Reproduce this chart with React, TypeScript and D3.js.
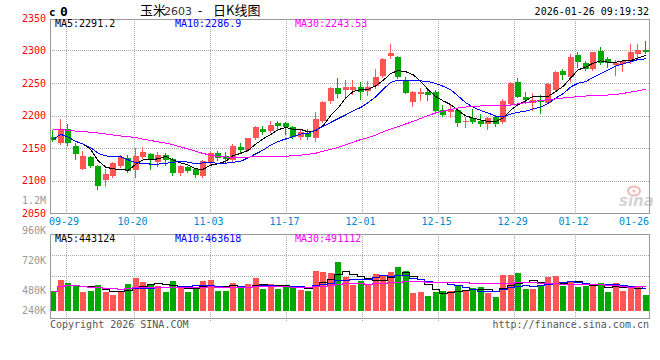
import { useEffect, useRef } from "react";
import * as d3 from "d3";

// trading days shown (80 bars)
const dates = [
  "09-25","09-26","09-29","09-30","10-09","10-10","10-13","10-14","10-15","10-16",
  "10-17","10-20","10-21","10-22","10-23","10-24","10-27","10-28","10-29","10-30",
  "10-31","11-03","11-04","11-05","11-06","11-07","11-10","11-11","11-12","11-13",
  "11-14","11-17","11-18","11-19","11-20","11-21","11-24","11-25","11-26","11-27",
  "11-28","12-01","12-02","12-03","12-04","12-05","12-08","12-09","12-10","12-11",
  "12-12","12-15","12-16","12-17","12-18","12-19","12-22","12-23","12-24","12-25",
  "12-26","12-29","12-30","12-31","01-05","01-06","01-07","01-08","01-09","01-12",
  "01-13","01-14","01-15","01-16","01-19","01-20","01-21","01-22","01-23","01-26",
];

const open = [
  2167,2157,2179,2153,2118,2136,2122,2101,2107,2122,2135,2116,2136,2141,2128,2140,2133,2111,2121,2117,
  2107,2128,2142,2137,2131,2151,2147,2165,2180,2176,2189,2189,2182,2167,2173,2166,2192,2222,2242,2239,
  2240,2244,2238,2245,2261,2291,2290,2255,2221,2233,2236,2236,2208,2205,2208,2190,2196,2191,2187,2197,
  2190,2218,2252,2228,2220,2224,2220,2240,2269,2260,2293,2281,2271,2299,2287,2277,2279,2282,2295,2301,
];
const high = [
  2177,2194,2187,2157,2146,2138,2124,2118,2128,2140,2140,2150,2152,2142,2144,2143,2134,2124,2123,2118,
  2132,2145,2145,2144,2156,2158,2166,2184,2184,2191,2192,2190,2184,2177,2180,2206,2222,2244,2258,2254,
  2255,2252,2253,2271,2288,2310,2292,2260,2237,2243,2239,2239,2216,2216,2209,2197,2210,2203,2197,2201,
  2225,2251,2258,2236,2235,2231,2250,2268,2271,2295,2297,2284,2298,2306,2290,2286,2286,2310,2310,2315,
];
const low = [
  2161,2156,2155,2133,2117,2121,2087,2092,2106,2121,2113,2106,2135,2118,2122,2124,2108,2108,2113,2106,
  2106,2126,2132,2127,2130,2144,2146,2164,2172,2174,2177,2171,2166,2164,2164,2161,2190,2219,2228,2229,
  2233,2225,2231,2243,2260,2288,2257,2234,2214,2224,2224,2206,2200,2198,2184,2183,2188,2184,2180,2184,
  2188,2217,2228,2219,2209,2204,2219,2239,2256,2253,2275,2270,2270,2279,2274,2263,2269,2281,2288,2296,
];
const close = [
  2163,2179,2158,2141,2138,2123,2091,2110,2127,2136,2114,2138,2144,2131,2139,2132,2111,2123,2114,2109,
  2130,2142,2134,2133,2153,2147,2165,2182,2174,2186,2184,2182,2167,2174,2167,2195,2221,2243,2233,2244,
  2244,2236,2244,2260,2287,2296,2259,2235,2236,2236,2232,2207,2201,2208,2189,2192,2190,2187,2196,2187,
  2222,2250,2229,2224,2224,2221,2249,2267,2263,2290,2282,2271,2297,2280,2280,2281,2284,2297,2301,2298,
];
const volume = [
  472,560,536,512,464,472,520,464,440,464,528,576,544,528,512,464,552,504,464,496,
  552,560,472,472,536,496,528,576,488,528,488,512,512,480,472,632,624,616,704,584,
  520,555,520,608,600,624,664,632,456,464,432,464,472,472,512,472,496,504,456,424,
  600,600,616,488,488,520,584,592,512,552,504,512,517,536,464,536,472,507,512,440,
].map((v) => v * 1000);

// MA30 of close (needs history before the first bar)
const ma30Close = [
  2179,2178,2177.5,2176,2175.5,2174,2173,2171.5,2170,2168.5,2167.5,2166,2163.5,2161.5,2159.5,2157.5,2155,2151.5,2148.5,2145,
  2141.5,2139,2137,2136,2135.5,2135.5,2136,2136.5,2137,2137.5,2137.5,2137.5,2138,2139,2140.5,2142,2145,2148,2151,2155,
  2159,2163,2166,2170,2175,2179,2183,2187,2191,2195.5,2200,2204,2207,2209.5,2211.5,2213,2214,2214.7,2215,2215.5,
  2215.7,2216,2218,2220,2221.5,2223,2224.5,2225.5,2227,2228,2229,2230,2230.5,2231,2231.5,2232.5,2234,2236,2238,2240.5,
];

const tickDates = ["09-29","10-20","11-03","11-17","12-01","12-15","12-29","01-12","01-26"];
const priceTicks = [2350, 2300, 2250, 2200, 2150, 2100, 2050];
const volTicks = [1200000, 960000, 720000, 480000, 240000];
const volTickText = ["1.2M", "960K", "720K", "480K", "240K"];
const priceLegend = ["MA5:2291.2", "MA10:2286.9", "MA30:2243.53"];
const volLegend = ["MA5:443124", "MA10:463618", "MA30:491112"];
const maColors = ["#000000", "#0000ff", "#ff00ff"];

const UP = "#ff5555";
const DOWN = "#00a800";
const MONO = "'DejaVu Sans Mono', monospace";
const CJK = "'Noto Sans CJK SC', sans-serif";

function movingAvg(arr: number[], n: number): number[] {
  return arr.map((_, i) => d3.mean(arr.slice(Math.max(0, i - n + 1), i + 1)) as number);
}

export default function App() {
  const ref = useRef<SVGSVGElement>(null);

  useEffect(() => {
    if (!ref.current) return;
    const svg = d3.select(ref.current);
    svg.selectAll("*").remove();

    const L = 50, R = 649;
    const pTop = 19, pBot = 213, vTop = 234, vBot = 318, vBase = 311;

    const x = d3.scaleBand<string>().domain(dates).range([49.5, 649.5]);
    const cx = (i: number) => (x(dates[i]) ?? 0) + x.bandwidth() / 2;
    // grid / tick positions (slightly different spacing in the original)
    const gx = d3.scaleLinear().domain([2, 69]).range([65.5, 575]);
    const y = d3.scaleLinear().domain([2050, 2350]).range([213, 18]);
    const yv = d3.scaleLinear().domain([0, 1200000]).range([350, 200]);

    const grid = svg.append("g").attr("stroke", "#aaa").attr("stroke-dasharray", "1,1").attr("shape-rendering", "crispEdges");
    tickDates.forEach((d) => {
      const gxv = gx(dates.indexOf(d));
      if (gxv >= R - 1) return;
      const px = Math.round(gxv) + 0.5;
      grid.append("line").attr("x1", px).attr("x2", px).attr("y1", pTop).attr("y2", pBot);
      grid.append("line").attr("x1", px).attr("x2", px).attr("y1", vTop).attr("y2", vBot + 4);
    });
    priceTicks.slice(1, -1).forEach((p) => {
      const py = Math.round(y(p)) + 0.5;
      grid.append("line").attr("x1", L).attr("x2", R).attr("y1", py).attr("y2", py);
    });
    [1, 2, 3].forEach((k) => {
      const py = Math.round(vTop + (k * (vBot - vTop)) / 4) + 0.5;
      grid.append("line").attr("x1", L).attr("x2", R).attr("y1", py).attr("y2", py);
    });

    // sina watermark
    const wm = svg.append("g");
    wm.append("ellipse").attr("cx", 634).attr("cy", 191).attr("rx", 6).attr("ry", 4.5)
      .attr("fill", "none").attr("stroke", "#f2b8b8").attr("stroke-width", 2);
    wm.append("circle").attr("cx", 634).attr("cy", 191).attr("r", 1.6).attr("fill", "#f2b8b8");
    wm.append("text").attr("x", 619).attr("y", 206).attr("font-family", "'DejaVu Sans', sans-serif")
      .attr("font-size", 15).attr("font-weight", "bold").attr("font-style", "italic")
      .attr("fill", "#d4d4d4").text("sina");

    // candles + volume bars
    const candles = svg.append("g").attr("shape-rendering", "crispEdges");
    dates.forEach((_, i) => {
      const up = close[i] >= open[i];
      const col = up ? UP : DOWN;
      const bx = Math.round(cx(i) - 3);
      const top = Math.round(y(Math.max(open[i], close[i])));
      const bot = Math.round(y(Math.min(open[i], close[i])));
      candles.append("line").attr("x1", bx + 2.5).attr("x2", bx + 2.5)
        .attr("y1", Math.round(y(high[i]))).attr("y2", Math.round(y(low[i])) + 1).attr("stroke", col);
      candles.append("rect").attr("x", bx).attr("y", top).attr("width", 6)
        .attr("height", Math.max(1, bot - top)).attr("fill", col);
      const vy = Math.round(yv(volume[i]));
      candles.append("rect").attr("x", bx).attr("y", vy).attr("width", 6)
        .attr("height", vBase - vy).attr("fill", col);
    });

    // MA lines
    const idx = d3.range(dates.length);
    const priceMAs = [movingAvg(close, 5), movingAvg(close, 10), ma30Close];
    priceMAs.forEach((ma, k) => {
      const line = d3.line<number>().x((i) => cx(i)).y((i) => y(ma[i]));
      svg.append("path").attr("d", line(idx)).attr("fill", "none")
        .attr("stroke", maColors[k]).attr("stroke-width", 1).attr("shape-rendering", "crispEdges");
    });
    const volMAs = [movingAvg(volume, 5), movingAvg(volume, 10), movingAvg(volume, 30)];
    volMAs.forEach((ma, k) => {
      const line = d3.line<number>().x((i) => cx(i)).y((i) => Math.round(yv(ma[i])) + 0.5).curve(d3.curveStep);
      svg.append("path").attr("d", line(idx)).attr("fill", "none")
        .attr("stroke", maColors[k]).attr("stroke-width", 1).attr("shape-rendering", "crispEdges");
    });

    // borders
    const border = svg.append("g").attr("stroke", "#999").attr("fill", "none").attr("shape-rendering", "crispEdges");
    border.append("rect").attr("x", L + 0.5).attr("y", pTop + 0.5).attr("width", R - L).attr("height", pBot - pTop);
    border.append("rect").attr("x", L + 0.5).attr("y", vTop + 0.5).attr("width", R - L).attr("height", vBot - vTop);

    const txt = (tx: number, ty: number, s: string, fill: string, anchor = "start", size = 10) =>
      svg.append("text").attr("x", tx).attr("y", ty).attr("text-anchor", anchor)
        .attr("dominant-baseline", "central").attr("font-family", MONO)
        .attr("font-size", size).attr("fill", fill).text(s);

    priceTicks.forEach((p) => txt(46, y(p), String(p), "#f00", "end"));
    volTicks.forEach((v, k) => txt(46, Math.min(yv(v), 310), volTickText[k], "#999", "end"));

    tickDates.forEach((d, k) => {
      const gxv = gx(dates.indexOf(d));
      if (k === tickDates.length - 1) txt(R, 221, d, "#0088d0", "end");
      else txt(gxv - 1.5, 221, d, "#0088d0", "middle");
    });

    const legX = [55, 175, 295];
    priceLegend.forEach((s, k) => txt(legX[k], 23.5, s, maColors[k]));
    volLegend.forEach((s, k) => txt(legX[k], 238.5, s, maColors[k]));

    // header
    svg.append("text").attr("x", 49).attr("y", 16).attr("font-family", MONO).attr("font-size", 11)
      .attr("font-weight", "bold").attr("fill", "#000").text("c");
    svg.append("text").attr("x", 60).attr("y", 16).attr("font-family", MONO).attr("font-size", 13)
      .attr("font-weight", "bold").attr("fill", "#000").text("0");
    svg.append("text").attr("x", 140).attr("y", 15).attr("font-family", CJK)
      .attr("font-size", 13).attr("fill", "#000").text("玉米");
    svg.append("text").attr("x", 164).attr("y", 15).attr("font-family", "'DejaVu Sans', sans-serif")
      .attr("font-size", 11).attr("fill", "#333").text("2603");
    svg.append("text").attr("x", 200).attr("y", 15).attr("text-anchor", "middle").attr("font-family", CJK)
      .attr("font-size", 13).attr("fill", "#000").text("-");
    svg.append("text").attr("x", 213).attr("y", 15).attr("font-family", CJK)
      .attr("font-size", 13).attr("fill", "#000").text("日K线图");
    txt(R, 11.5, "2026-01-26 09:19:32", "#000", "end");

    // footer
    txt(50, 324, "Copyright 2026 SINA.COM", "#555");
    txt(R, 324, "http://finance.sina.com.cn", "#555", "end");
  }, []);

  return (
    <div style={{ position: "fixed", left: 0, top: 0 }}>
      <svg ref={ref} width={660} height={360} style={{ display: "block", background: "#fff" }} />
    </div>
  );
}
